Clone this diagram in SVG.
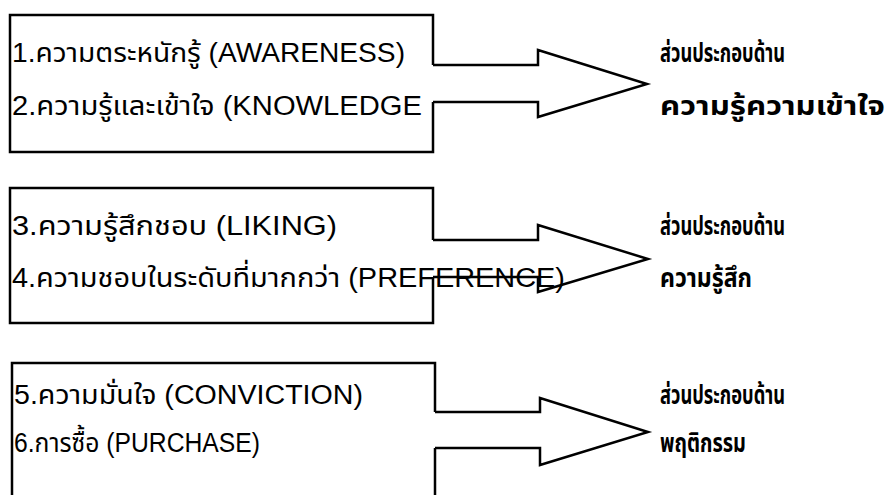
<svg xmlns="http://www.w3.org/2000/svg" width="895" height="495" viewBox="0 0 895 495">
<style>
.ol{fill:none;stroke:#000;stroke-width:2.5;stroke-linejoin:miter}
.ar{fill:#fff;stroke:#000;stroke-width:2.5;stroke-linejoin:miter}
.t{font-family:"Liberation Sans","Noto Sans Thai","Noto Sans",sans-serif;font-size:27px;fill:#000}
.r{font-family:"Noto Sans Thai","Liberation Sans","Noto Sans",sans-serif;font-size:26px;font-weight:bold;fill:#000}
</style>
<rect width="895" height="495" fill="#fff"/>
<g id="connectors">
<path class="ar" d="M433,65 H538 V50 L647,84 L538,117 V102 H433"/>
<path class="ar" d="M433,240 H538 V225 L648,259 L538,292 V277 H433"/>
<path class="ar" d="M435,412 H540 V398 L648,432 L540,465 V448 H435"/>
</g>
<g id="block1">
<path class="ol" d="M433,65 V15 H10 V152 H433 V102"/>
<text class="t" x="12" y="62" textLength="393" lengthAdjust="spacingAndGlyphs">1.ความตระหนักรู้ (AWARENESS)</text>
<text class="t" x="12" y="115" textLength="410" lengthAdjust="spacingAndGlyphs">2.ความรู้และเข้าใจ (KNOWLEDGE</text>
</g>
<g id="block2">
<path class="ol" d="M433,240 V188 H10 V323 H433 V277"/>
<text class="t" x="12" y="235" textLength="325" lengthAdjust="spacingAndGlyphs">3.ความรู้สึกชอบ (LIKING)</text>
<text class="t" x="12" y="287" textLength="553" lengthAdjust="spacingAndGlyphs">4.ความชอบในระดับที่มากกว่า (PREFERENCE)</text>
</g>
<g id="block3">
<path class="ol" d="M435,412 V363 H12 V500 H435 V448"/>
<text class="t" x="14" y="404" textLength="349" lengthAdjust="spacingAndGlyphs">5.ความมั่นใจ (CONVICTION)</text>
<text class="t" x="14" y="452" textLength="246" lengthAdjust="spacingAndGlyphs">6.การซื้อ (PURCHASE)</text>
</g>
<g id="out1">
<text class="r" x="660" y="62" textLength="125" lengthAdjust="spacingAndGlyphs">ส่วนประกอบด้าน</text>
<text class="r" x="660" y="115" textLength="225" lengthAdjust="spacingAndGlyphs">ความรู้ความเข้าใจ</text>
</g>
<g id="out2">
<text class="r" x="660" y="235" textLength="125" lengthAdjust="spacingAndGlyphs">ส่วนประกอบด้าน</text>
<text class="r" x="660" y="287" textLength="92" lengthAdjust="spacingAndGlyphs">ความรู้สึก</text>
</g>
<g id="out3">
<text class="r" x="660" y="404" textLength="125" lengthAdjust="spacingAndGlyphs">ส่วนประกอบด้าน</text>
<text class="r" x="660" y="452" textLength="86" lengthAdjust="spacingAndGlyphs">พฤติกรรม</text>
</g>
</svg>
